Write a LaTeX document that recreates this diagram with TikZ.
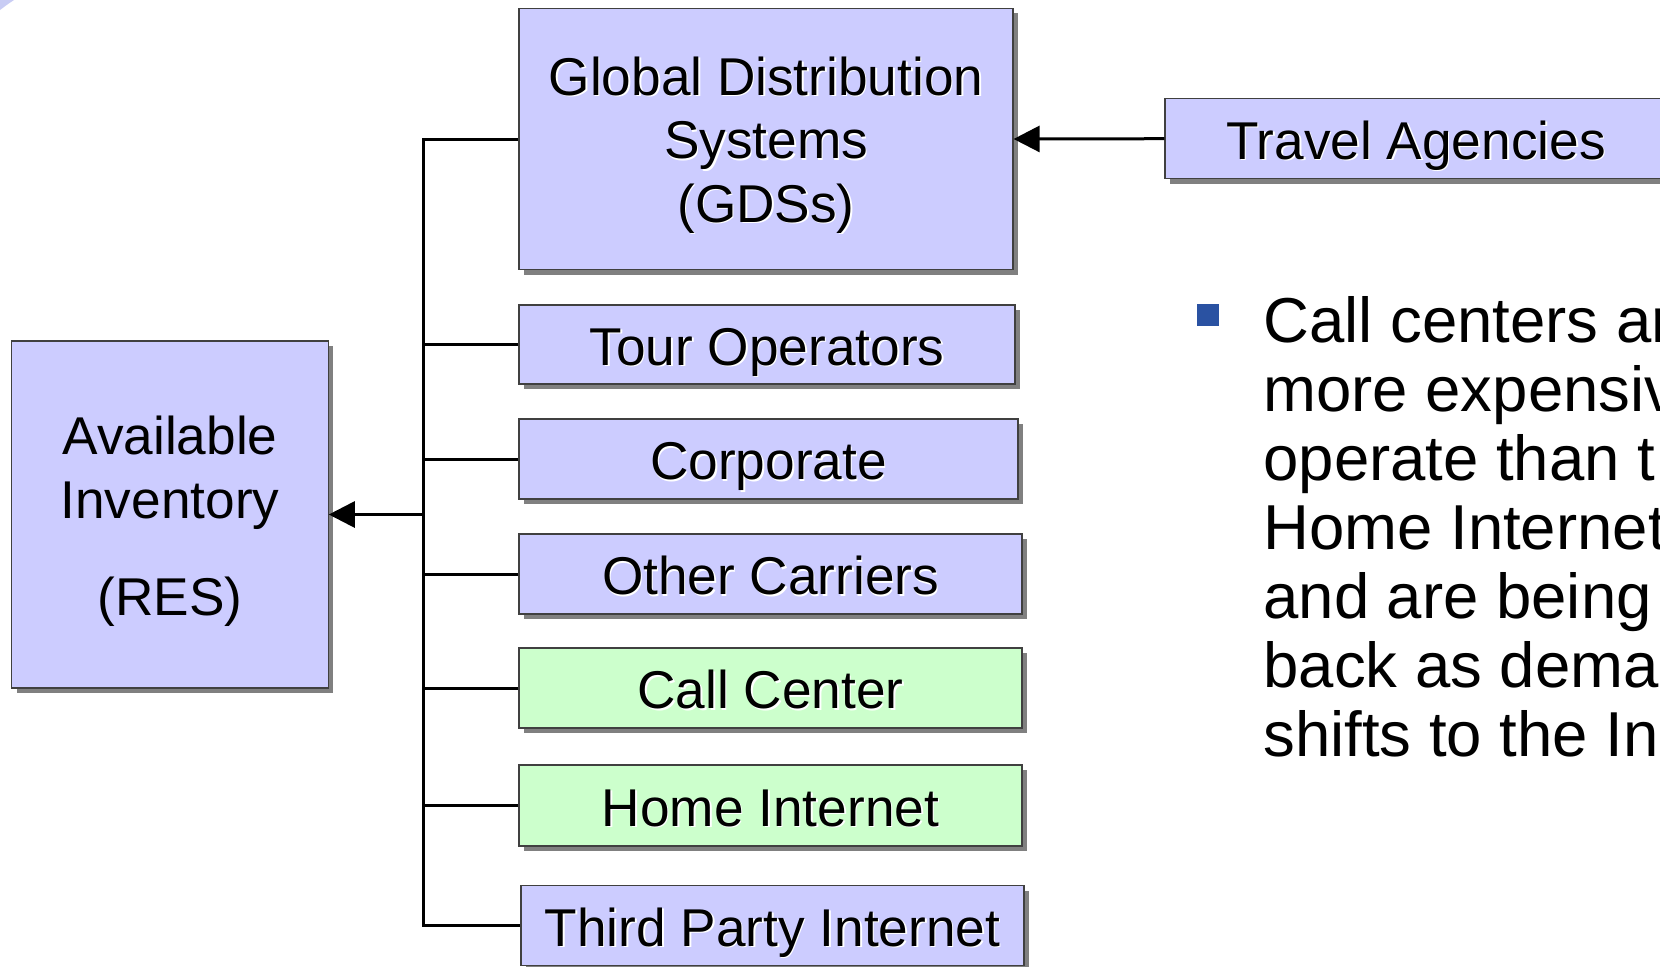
\documentclass[tikz,border=0pt]{standalone}
\usepackage{fontspec}
\setmainfont{Liberation Sans}
\usetikzlibrary{arrows.meta}
\definecolor{boxblue}{HTML}{CCCCFF}
\definecolor{boxgreen}{HTML}{CCFFCC}
\definecolor{shadowgray}{HTML}{808080}
\definecolor{bulletblue}{HTML}{2A52A2}
\definecolor{cornerblue}{HTML}{C8CCF4}
\newcommand\sht[1]{\makebox[0pt][l]{\hspace{0.8pt}\raisebox{-0.8pt}{\color{white}#1}}#1}
\newcommand\topstrut[1]{\rule{0pt}{#1}}
\begin{document}
\begin{tikzpicture}[x=0.5pt,y=-0.5pt,
  box/.style={draw=black!75, line width=0.6pt, fill=boxblue, inner sep=0pt, align=center,
    font=\fontsize{26.6}{31.75}\selectfont,
    preaction={draw=none, fill=shadowgray, transform canvas={shift={(2.5pt,-2.5pt)}}}},
  onebox/.style={box, text height=20.6pt, text depth=0pt},
  greenbox/.style={onebox, fill=boxgreen},
  conn/.style={line width=1.5pt},
  arr/.style={conn, -{Triangle[length=13pt,width=13pt]}},
  bodyline/.style={anchor=base west, inner sep=0pt, font=\fontsize{31.75}{34.5}\selectfont}]
\useasboundingbox (0,0) rectangle (1660,966);
\fill[cornerblue] (0,0) -- (14,0) .. controls (8,4) .. (0,10) -- cycle;

\node[box, minimum width=247pt, minimum height=130.75pt] (gds) at (766,139)
  {\topstrut{26pt}\sht{Global Distribution}\\\sht{Systems}\\\sht{(GDSs)}};
\node[onebox, minimum width=251pt, minimum height=40pt] (travel) at (1416,138.7) {\sht{Travel Agencies}};
\node[onebox, minimum width=248pt, minimum height=39.5pt] (tour) at (767,344.5) {\sht{Tour Operators}};
\node[onebox, minimum width=249.5pt, minimum height=40pt] (corp) at (768.5,459) {\sht{Corporate}};
\node[onebox, minimum width=251.5pt, minimum height=40pt] (other) at (770.5,574) {\sht{Other Carriers}};
\node[greenbox, minimum width=251.5pt, minimum height=40pt] (call) at (770.5,688) {\sht{Call Center}};
\node[greenbox, minimum width=251.5pt, minimum height=40.5pt] (home) at (770.5,805.5) {\sht{Home Internet}};
\node[onebox, minimum width=251.5pt, minimum height=40pt] (third) at (772.5,925.5) {\sht{Third Party Internet}};
\node[box, minimum width=158.2pt, minimum height=173.5pt] (ai) at (170,514.5)
  {\topstrut{26.3pt}Available\\Inventory\\[17pt](RES)};

\coordinate (bx) at (423.5,0);
\draw[conn] (gds.west) -- (gds.west -| bx) -- (third.west -| bx) -- (third.west);
\foreach \n in {tour,corp,other,call,home} \draw[conn] (\n.west) -- (\n.west -| bx);
\draw[arr] (ai.east -| bx) -- (ai.east);
\draw[arr] (travel.west) -- (gds.east);

\node[fill=bulletblue, minimum size=11pt, inner sep=0pt] (bullet) at (1208,314.5) {};
\node[bodyline] (l1) at (1263,342) {Call centers ar};
\node[bodyline] (l2) at (1263,411) {more expensiv};
\node[bodyline] (l3) at (1263,480) {operate than t};
\node[bodyline] (l4) at (1263,549) {Home Internet};
\node[bodyline] (l5) at (1263,618) {and are being};
\node[bodyline] (l6) at (1263,687) {back as dema};
\node[bodyline] (l7) at (1263,756) {shifts to the In};
\end{tikzpicture}
\end{document}
